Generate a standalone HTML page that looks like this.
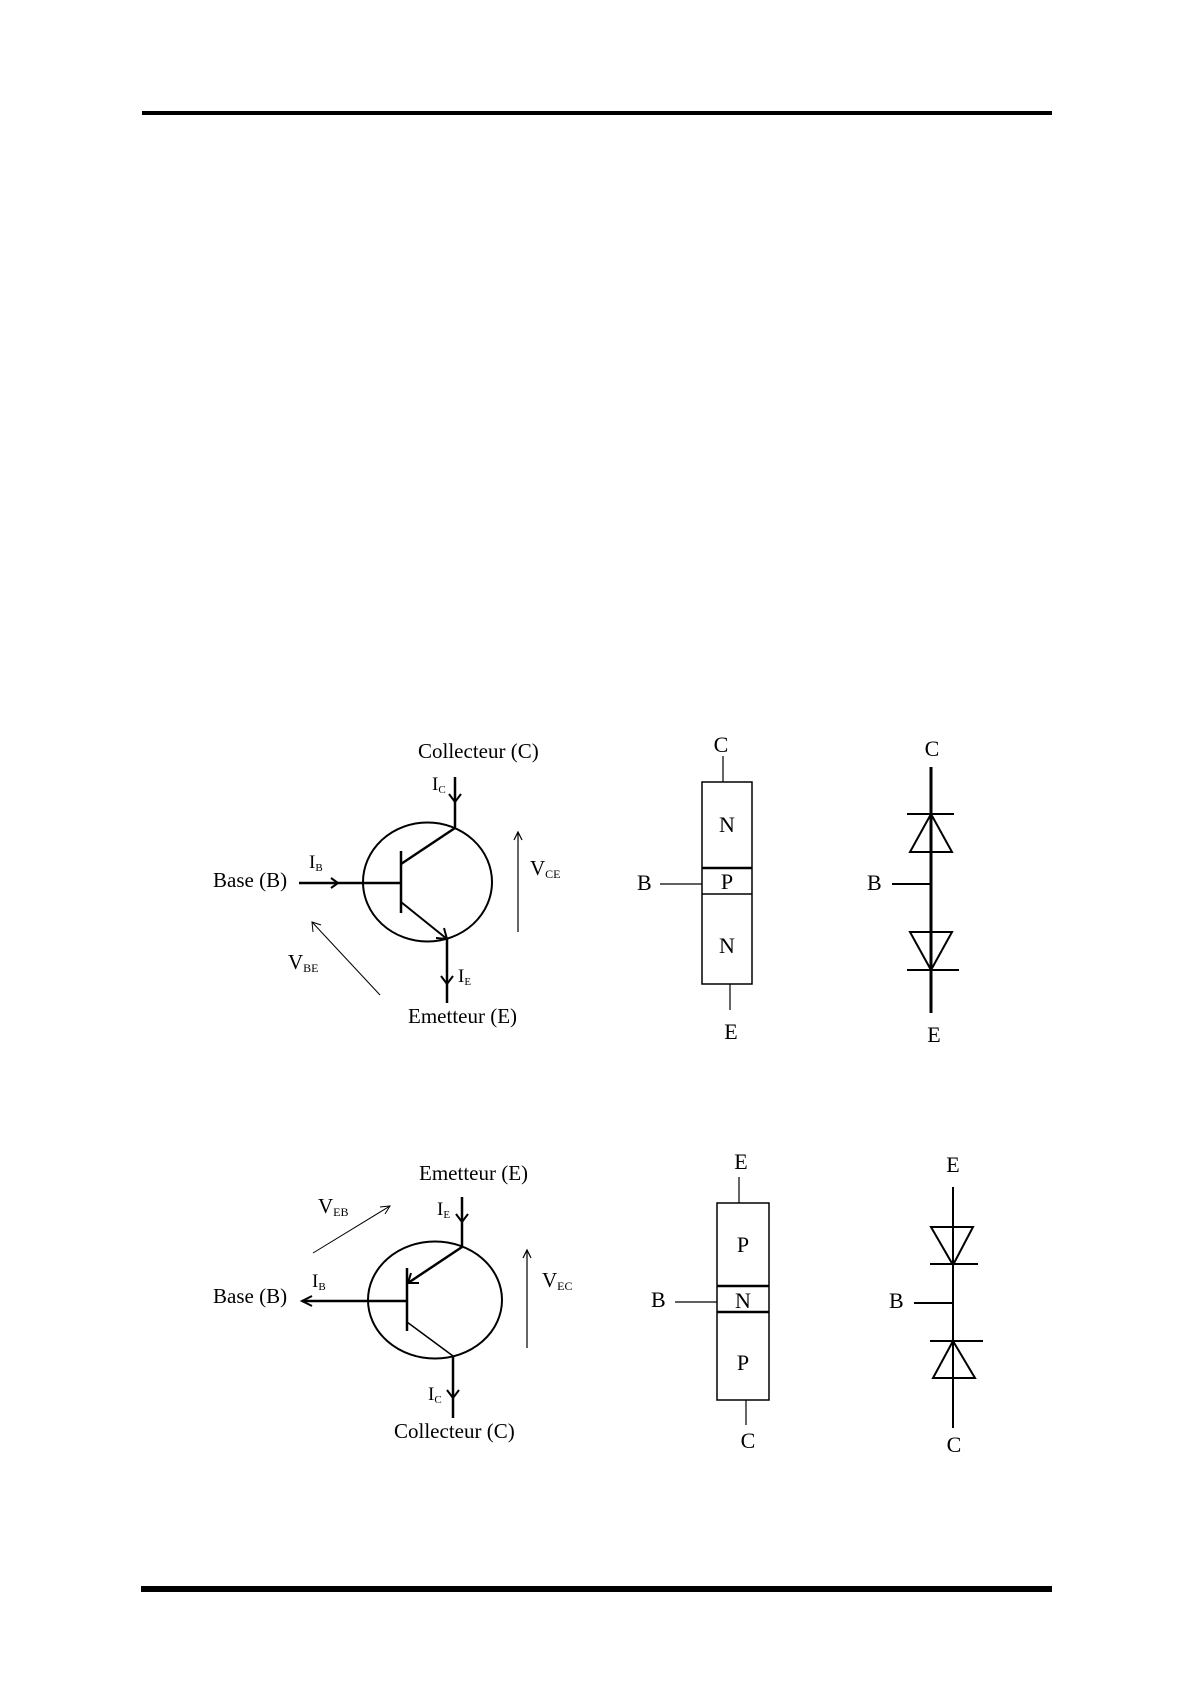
<!DOCTYPE html>
<html><head><meta charset="utf-8"><style>
html,body{margin:0;padding:0;background:#fff;}
svg{display:block;}
text{font-family:"Liberation Serif",serif;fill:#000;}
</style></head><body>
<svg width="1191" height="1684" viewBox="0 0 1191 1684" xmlns="http://www.w3.org/2000/svg">
<rect x="142" y="111" width="910" height="4" fill="#000"/>
<rect x="141" y="1586" width="911" height="6" fill="#000"/>

<!-- Diagram 1 NPN -->
<g stroke="#000" fill="none">
<ellipse cx="427.5" cy="882" rx="64.5" ry="59.5" stroke-width="2"/>
<line x1="455" y1="777" x2="455" y2="828" stroke-width="2.5"/>
<path d="M449,794 L455,802 L461,794" stroke-width="2"/>
<line x1="401" y1="851" x2="401" y2="913" stroke-width="2.5"/>
<line x1="299" y1="883" x2="401" y2="883" stroke-width="2.5"/>
<path d="M331,878 L338,883 L331,888" stroke-width="2"/>
<line x1="401" y1="864" x2="455" y2="828" stroke-width="2.5"/>
<line x1="401" y1="902" x2="447" y2="939" stroke-width="2"/>
<path d="M436,938 L447,939 L444,928" stroke-width="2"/>
<line x1="447" y1="939" x2="447" y2="1003" stroke-width="2.5"/>
<path d="M441,976 L447,984 L453,976" stroke-width="2"/>
<line x1="518" y1="932" x2="518" y2="832" stroke-width="1.2"/>
<path d="M514,840 L518,832 L522,840" stroke-width="1.2"/>
<line x1="380" y1="995" x2="312" y2="922" stroke-width="1"/>
<path d="M313,932 L312,922 L321,925" stroke-width="1"/>
</g>
<text x="418" y="758" font-size="21">Collecteur (C)</text>
<text x="432" y="790" font-size="19">I<tspan font-size="11" dy="3">C</tspan></text>
<text x="213" y="887" font-size="21">Base (B)</text>
<text x="309" y="868" font-size="19">I<tspan font-size="11" dy="3">B</tspan></text>
<text x="458" y="982" font-size="19">I<tspan font-size="11" dy="3">E</tspan></text>
<text x="408" y="1023" font-size="21">Emetteur (E)</text>
<text x="530" y="875" font-size="21">V<tspan font-size="12" dy="3">CE</tspan></text>
<text x="288" y="969" font-size="21">V<tspan font-size="12" dy="3">BE</tspan></text>

<!-- Diagram 2 NPN blocks -->
<g stroke="#000" fill="none">
<line x1="723" y1="756" x2="723" y2="782" stroke-width="1.2"/>
<rect x="702" y="782" width="50" height="202" stroke-width="1.5"/>
<line x1="702" y1="868" x2="752" y2="868" stroke-width="2.5"/>
<line x1="702" y1="894" x2="752" y2="894" stroke-width="1.5"/>
<line x1="660" y1="884" x2="702" y2="884" stroke-width="1.2"/>
<line x1="730" y1="984" x2="730" y2="1010" stroke-width="1.2"/>
<line x1="931" y1="767" x2="931" y2="1013" stroke-width="3"/>
<line x1="907" y1="814" x2="954" y2="814" stroke-width="2"/>
<path d="M931,814 L910,852 L952,852 Z" stroke-width="2"/>
<line x1="892" y1="884" x2="931" y2="884" stroke-width="2"/>
<path d="M910,932 L952,932 L931,970 Z" stroke-width="2"/>
<line x1="907" y1="970" x2="959" y2="970" stroke-width="2"/>
</g>
<g font-size="22" text-anchor="middle">
<text x="721" y="752">C</text>
<text x="727" y="832">N</text>
<text x="727" y="889">P</text>
<text x="727" y="953">N</text>
<text x="731" y="1039">E</text>
<text x="932" y="756">C</text>
<text x="934" y="1042">E</text>
</g>
<text x="637" y="890" font-size="22">B</text>
<text x="867" y="890" font-size="22">B</text>

<!-- Diagram 3 PNP -->
<g stroke="#000" fill="none">
<ellipse cx="435" cy="1300" rx="67" ry="58.5" stroke-width="2"/>
<line x1="462" y1="1197" x2="462" y2="1247" stroke-width="2.5"/>
<path d="M456,1214 L462,1222 L468,1214" stroke-width="2"/>
<line x1="407" y1="1268" x2="407" y2="1331" stroke-width="2.5"/>
<line x1="302" y1="1301" x2="407" y2="1301" stroke-width="2.5"/>
<path d="M312,1296 L302,1301 L312,1306" stroke-width="2"/>
<line x1="462" y1="1247" x2="408" y2="1283" stroke-width="2.5"/>
<path d="M411,1273 L408,1283 L419,1283" stroke-width="2"/>
<line x1="407" y1="1322" x2="453" y2="1356" stroke-width="1.5"/>
<line x1="453" y1="1356" x2="453" y2="1418" stroke-width="2.5"/>
<path d="M447,1390 L453,1398 L459,1390" stroke-width="2"/>
<line x1="527" y1="1348" x2="527" y2="1250" stroke-width="1.2"/>
<path d="M523,1258 L527,1250 L531,1258" stroke-width="1.2"/>
<line x1="313" y1="1253" x2="390" y2="1206" stroke-width="1"/>
<path d="M380,1207 L390,1206 L385,1214" stroke-width="1"/>
</g>
<text x="419" y="1180" font-size="21">Emetteur (E)</text>
<text x="437" y="1215" font-size="19">I<tspan font-size="11" dy="3">E</tspan></text>
<text x="213" y="1303" font-size="21">Base (B)</text>
<text x="312" y="1287" font-size="19">I<tspan font-size="11" dy="3">B</tspan></text>
<text x="428" y="1400" font-size="19">I<tspan font-size="11" dy="3">C</tspan></text>
<text x="394" y="1438" font-size="21">Collecteur (C)</text>
<text x="542" y="1287" font-size="21">V<tspan font-size="12" dy="3">EC</tspan></text>
<text x="318" y="1213" font-size="21">V<tspan font-size="12" dy="3">EB</tspan></text>

<!-- Diagram 4 PNP blocks -->
<g stroke="#000" fill="none">
<line x1="739" y1="1177" x2="739" y2="1203" stroke-width="1.2"/>
<rect x="717" y="1203" width="52" height="197" stroke-width="1.5"/>
<line x1="717" y1="1286" x2="769" y2="1286" stroke-width="2.5"/>
<line x1="717" y1="1312" x2="769" y2="1312" stroke-width="2.5"/>
<line x1="675" y1="1302" x2="717" y2="1302" stroke-width="1.2"/>
<line x1="746" y1="1400" x2="746" y2="1425" stroke-width="1.2"/>
<line x1="953" y1="1187" x2="953" y2="1428" stroke-width="2"/>
<path d="M931,1227 L973,1227 L953,1265 Z" stroke-width="2"/>
<line x1="930" y1="1264" x2="978" y2="1264" stroke-width="2"/>
<line x1="914" y1="1303" x2="953" y2="1303" stroke-width="2"/>
<line x1="930" y1="1341" x2="983" y2="1341" stroke-width="2"/>
<path d="M953,1341 L933,1378 L975,1378 Z" stroke-width="2"/>
</g>
<g font-size="22" text-anchor="middle">
<text x="741" y="1169">E</text>
<text x="743" y="1252">P</text>
<text x="743" y="1308">N</text>
<text x="743" y="1370">P</text>
<text x="748" y="1448">C</text>
<text x="953" y="1172">E</text>
<text x="954" y="1452">C</text>
</g>
<text x="651" y="1307" font-size="22">B</text>
<text x="889" y="1308" font-size="22">B</text>
</svg>
</body></html>
